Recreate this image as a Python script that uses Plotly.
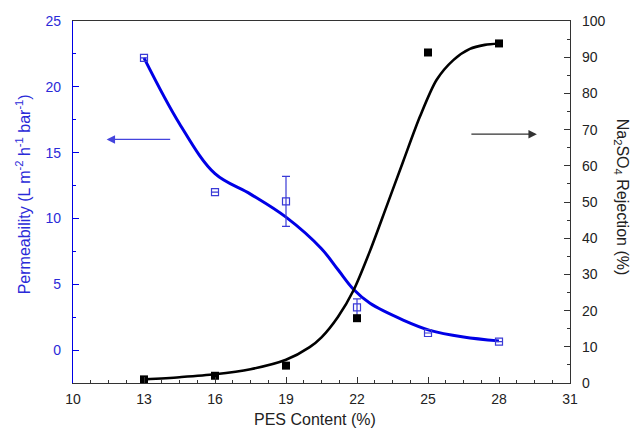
import plotly.graph_objects as go

# Measured data
pes = [13, 16, 19, 22, 25, 28]
permeability = [22.2, 12.0, 11.3, 3.24, 1.3, 0.65]
perm_err = [0, 0, 1.9, 0.65, 0, 0]
rejection = [1.0, 2.0, 4.8, 17.9, 91.3, 93.8]

# Fitted curves
fit_perm_x = [13, 14.5, 16, 17.5, 19, 20.5, 21.2, 21.86, 22.55, 23.95, 25.08, 26.5, 28]
fit_perm_y = [22.2, 17.2, 13.4, 11.85, 10.1, 7.7, 6.1, 4.6, 3.55, 2.28, 1.5, 1.0, 0.7]
fit_rej_x = [13, 14.5, 16, 17.5, 19, 20.0, 20.5, 21.2, 21.86, 22.55, 23.25, 23.95, 24.66, 25.36, 26.07, 26.77, 27.4, 28]
fit_rej_y = [1.0, 1.6, 2.4, 3.8, 6.4, 9.9, 12.6, 18.3, 25.7, 36.5, 48.8, 61.2, 73.6, 83.7, 89.2, 92.3, 93.4, 93.8]

x_ticks = [10, 13, 16, 19, 22, 25, 28, 31]

BLUE = "#0000e6"
BLUE_TXT = "#2a2ad8"
FONT = "Liberation Sans, Arial, sans-serif"

fig = go.Figure()

fig.add_trace(go.Scatter(
    x=fit_perm_x, y=fit_perm_y, mode="lines", line=dict(color=BLUE, width=3, shape="spline", smoothing=1.0),
    yaxis="y", hoverinfo="skip", showlegend=False))
fig.add_trace(go.Scatter(
    x=pes, y=permeability, mode="markers",
    marker=dict(symbol="square-open", size=7, color="#3a3ad6", line=dict(width=1.2)),
    error_y=dict(type="data", array=perm_err, color="#3a3ad6", thickness=1.2, width=4),
    yaxis="y", showlegend=False))
fig.add_trace(go.Scatter(
    x=fit_rej_x, y=fit_rej_y, mode="lines", line=dict(color="black", width=2.6, shape="spline", smoothing=0.8),
    yaxis="y2", hoverinfo="skip", showlegend=False))
fig.add_trace(go.Scatter(
    x=pes, y=rejection, mode="markers",
    marker=dict(symbol="square", size=8, color="black"),
    yaxis="y2", showlegend=False))

fig.update_layout(
    width=633, height=437,
    margin=dict(l=73, r=63, t=21, b=54),
    paper_bgcolor="white", plot_bgcolor="white",
    font=dict(family=FONT, size=14, color="#222"),
    xaxis=dict(
        range=[10, 31], tickvals=x_ticks, showgrid=False, zeroline=False,
        showline=True, linecolor="#333", linewidth=1.3, mirror=True,
        ticks="inside", ticklen=6, tickcolor="#333", tickwidth=1,
        minor=dict(dtick=0.75, tick0=10, ticks="inside", ticklen=3, tickcolor="#333"),
        tickfont=dict(size=14, color="#222"), ticklabelstandoff=3,
    ),
    yaxis=dict(
        range=[-2.5, 25], tickvals=[0, 5, 10, 15, 20, 25], showgrid=False, zeroline=False,
        showline=True, linecolor=BLUE, linewidth=1.3,
        ticks="inside", ticklen=6, tickcolor=BLUE, tickwidth=1,
        minor=dict(dtick=2.5, tick0=0, ticks="inside", ticklen=3, tickcolor=BLUE),
        tickfont=dict(size=14, color=BLUE_TXT), ticklabelstandoff=8,
    ),
    yaxis2=dict(
        range=[0, 100], tickvals=list(range(0, 101, 10)), overlaying="y", side="right",
        showgrid=False, zeroline=False, showline=True, linecolor="#333", linewidth=1.3,
        ticks="inside", ticklen=6, tickcolor="#333", tickwidth=1,
        minor=dict(dtick=5, tick0=0, ticks="inside", ticklen=3, tickcolor="#333"),
        tickfont=dict(size=14, color="#222"), ticklabelstandoff=8,
    ),
    annotations=[
        dict(text="PES Content (%)", xref="paper", yref="paper", x=0.487, y=-0.102,
             showarrow=False, font=dict(size=16, color="#222"), xanchor="center", yanchor="middle"),
        dict(text="Permeability (L m<sup>-2</sup> h<sup>-1</sup> bar<sup>-1</sup>)", xref="paper", yref="paper",
             x=-0.100, y=0.522, textangle=-90, showarrow=False,
             font=dict(size=16, color=BLUE_TXT), xanchor="center", yanchor="middle"),
        dict(text="Na<sub>2</sub>SO<sub>4</sub> Rejection (%)", xref="paper", yref="paper",
             x=1.103, y=0.514, textangle=90, showarrow=False,
             font=dict(size=16, color="#222"), xanchor="center", yanchor="middle"),
        dict(x=11.42, y=16.0, ax=14.17, ay=16.0, xref="x", yref="y", axref="x", ayref="y",
             text="", showarrow=True, arrowhead=2, arrowsize=1.3, arrowwidth=1.3, arrowcolor="#4444dd"),
        dict(x=29.6, y=16.4, ax=26.77, ay=16.4, xref="x", yref="y", axref="x", ayref="y",
             text="", showarrow=True, arrowhead=2, arrowsize=1.3, arrowwidth=1.3, arrowcolor="#333"),
    ],
)

fig.write_html("out.html", config={"displayModeBar": False},
               post_script="document.body.style.margin='0';document.body.style.overflow='hidden';")
